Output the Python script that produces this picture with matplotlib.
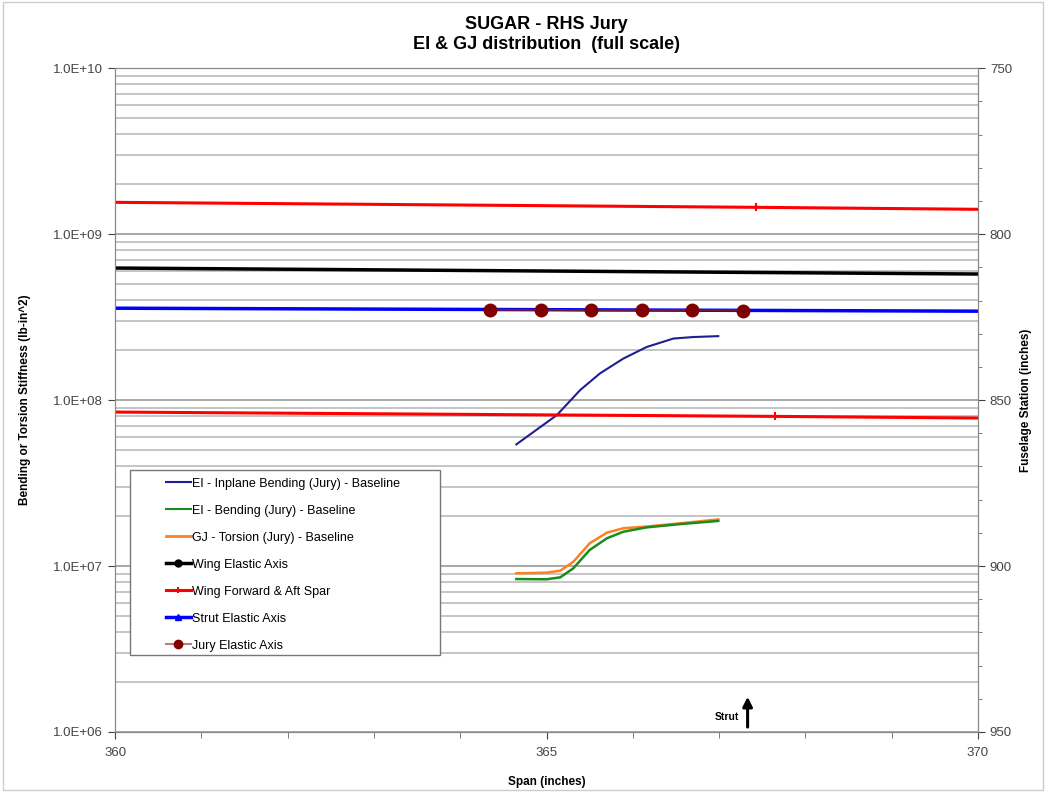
import math
import matplotlib
matplotlib.use("Agg")
from matplotlib import pyplot as plt
from matplotlib.ticker import FixedLocator, FuncFormatter, MultipleLocator, LogLocator, NullFormatter
from matplotlib.patches import Rectangle

plt.rcParams['font.family'] = ['Liberation Sans', 'DejaVu Sans']

# stiffness curves (left axis, log)
span_stiff = [364.65, 365.12, 365.39, 365.62, 365.89, 366.16, 366.47, 366.70, 366.99]
ei_inplane = [5.41e7, 8.13e7, 1.15e8, 1.45e8, 1.78e8, 2.09e8, 2.35e8, 2.40e8, 2.43e8]

span_tb = [364.65, 365.00, 365.16, 365.31, 365.50, 365.70, 365.89, 366.16, 366.55, 366.99]
ei_bending = [8.35e6, 8.32e6, 8.55e6, 9.69e6, 1.25e7, 1.47e7, 1.61e7, 1.71e7, 1.79e7, 1.87e7]
gj_torsion = [9.04e6, 9.12e6, 9.38e6, 1.06e7, 1.37e7, 1.59e7, 1.69e7, 1.73e7, 1.81e7, 1.91e7]

# geometry (right axis, fuselage station)
span_fwd = [360, 367.43, 370]
sta_fwd = [790.4, 791.9, 792.5]
span_aft = [360, 367.65, 370]
sta_aft = [853.6, 854.9, 855.4]
span_wing_ea = [360, 370]
sta_wing_ea = [810.2, 812.0]
span_strut_ea = [360, 370]
sta_strut_ea = [822.3, 823.2]
span_jury = [364.35, 364.94, 365.52, 366.11, 366.69, 367.28]
sta_jury = [822.8, 822.8, 822.9, 822.9, 822.9, 823.0]

strut_span = 367.33

labels = ['EI - Inplane Bending (Jury) - Baseline', 'EI - Bending (Jury) - Baseline',
          'GJ - Torsion (Jury) - Baseline', 'Wing Elastic Axis', 'Wing Forward & Aft Spar',
          'Strut Elastic Axis', 'Jury Elastic Axis']

fig = plt.figure(figsize=(10.46, 7.92), dpi=100)
ax = fig.add_axes([0.110, 0.0758, 0.825, 0.838])
ax2 = ax.twinx()

ax.set_yscale('log')
ax.set_ylim(1e6, 1e10)
ax.set_xlim(360, 370)
ax.yaxis.set_major_locator(LogLocator(base=10, numticks=10))
ax.yaxis.set_minor_locator(LogLocator(base=10, subs=range(2, 10), numticks=20))
ax.yaxis.set_minor_formatter(NullFormatter())
ax.yaxis.set_major_formatter(FuncFormatter(lambda v, p: "1.0E+%02d" % round(math.log10(v))))
ax.xaxis.set_major_locator(FixedLocator([360, 365, 370]))
ax.xaxis.set_minor_locator(MultipleLocator(1))
ax.grid(True, which='minor', axis='y', color='#c0c0c0', lw=1.3)
ax.grid(True, which='major', axis='y', color='#a8a8a8', lw=1.4)
ax.tick_params(axis='y', which='minor', length=0)
ax.tick_params(axis='both', which='major', labelsize=9.5, colors='#444444', length=5)
ax.tick_params(axis='x', which='major', pad=6)
ax.tick_params(axis='x', which='minor', length=4, color='#666666')
ax.set_axisbelow(True)

ax2.set_ylim(950, 750)
ax2.yaxis.set_major_locator(FixedLocator([750, 800, 850, 900, 950]))
ax2.yaxis.set_minor_locator(MultipleLocator(10))
ax2.tick_params(axis='y', which='major', labelsize=9.5, colors='#444444', length=5)
ax2.tick_params(axis='y', which='minor', length=3, color='#666666')

for a in (ax, ax2):
    for s in a.spines.values():
        s.set_color('#888888')

ax.plot(span_stiff, ei_inplane, color='#1f1f8f', lw=1.5)
ax.plot(span_tb, gj_torsion, color='#ff8020', lw=1.8)
ax.plot(span_tb, ei_bending, color='#1a8c1a', lw=1.8)

ax2.plot(span_wing_ea, sta_wing_ea, color='black', lw=2.5)
ax2.plot(span_fwd, sta_fwd, color='red', lw=2.2, marker='|', ms=6, mew=1.5, markevery=[1])
ax2.plot(span_aft, sta_aft, color='red', lw=2.2, marker='|', ms=6, mew=1.5, markevery=[1])
ax2.plot(span_strut_ea, sta_strut_ea, color='#0000ff', lw=2.5)
ax2.plot(span_jury, sta_jury, color='#6a1a40', lw=1.5, marker='o', ms=9, mfc='#800000', mec='#800000')

# legend: drawn frame plus frameless legend inside it
handles = [plt.Line2D([], [], color='#1f1f8f', lw=1.5),
           plt.Line2D([], [], color='#1a8c1a', lw=1.5),
           plt.Line2D([], [], color='#ff8020', lw=2),
           plt.Line2D([], [], color='black', lw=2.5, marker='o', ms=5),
           plt.Line2D([], [], color='red', lw=2.2, marker='|', ms=5, mew=1.5),
           plt.Line2D([], [], color='#0000ff', lw=2.5, marker='^', ms=4),
           plt.Line2D([], [], color='#b08080', lw=1.5, marker='o', ms=6, mfc='#800000', mec='#800000')]
ax2.add_patch(Rectangle((0.0174, 0.116), 0.359, 0.279, transform=ax2.transAxes, fill=True,
                        facecolor='white', edgecolor='#777777', lw=1.0, zorder=4))
leg = ax2.legend(handles, labels, loc='upper left', bbox_to_anchor=(0.0585, 0.383), fontsize=9,
                 frameon=False, handlelength=2.0, handletextpad=0.1, labelspacing=1.2,
                 borderpad=0, borderaxespad=0)
leg.set_zorder(5)

ax.annotate('', xy=(strut_span, 1.63e6), xytext=(strut_span, 1.07e6),
            arrowprops=dict(arrowstyle='-|>', color='black', lw=2.2, mutation_scale=14,
                            shrinkA=0, shrinkB=0))
ax.text(strut_span - 0.1, 1.23e6, 'Strut', fontsize=7.5, fontweight='bold', ha='right', va='center')

ax.set_xlabel('Span (inches)', fontsize=8.5, fontweight='bold', labelpad=12)
ax.set_ylabel('Bending or Torsion Stiffness (lb-in^2)', fontsize=8.5, fontweight='bold', labelpad=16)
ax2.set_ylabel('Fuselage Station (inches)', fontsize=8.5, fontweight='bold', labelpad=6)
ax.set_title('SUGAR - RHS Jury\nEI & GJ distribution  (full scale)', fontsize=13, fontweight='bold',
             pad=14, linespacing=1.25)

fig.patches.append(Rectangle((0.003, 0.003), 0.994, 0.994, transform=fig.transFigure,
                             fill=False, edgecolor='#cccccc', lw=1))

fig.savefig('out.png', dpi=100)
